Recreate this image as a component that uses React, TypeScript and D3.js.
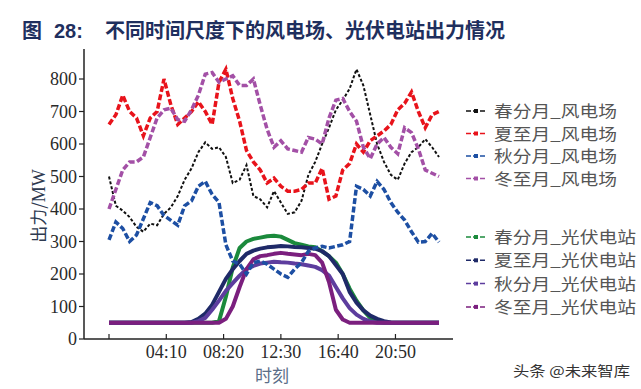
import React from 'react';
import * as d3 from 'd3';

// half-hour samples, 00:00 .. 24:00
const hours = d3.range(0, 24.01, 0.5);

// wind farms (MW)
const springWind = [500, 410, 395, 375, 345, 330, 355, 350, 385, 405, 440, 490, 525, 575, 605, 585, 590, 560, 480, 490, 535, 440, 430, 405, 455, 420, 385, 390, 425, 505, 545, 600, 650, 705, 735, 770, 830, 780, 690, 600, 545, 505, 490, 540, 575, 590, 615, 590, 560];
const summerWind = [660, 690, 750, 700, 680, 625, 680, 700, 800, 720, 660, 680, 700, 730, 700, 660, 790, 830, 740, 670, 580, 545, 520, 480, 495, 470, 455, 455, 460, 480, 480, 525, 430, 440, 520, 540, 600, 575, 610, 625, 640, 660, 705, 725, 760, 700, 650, 690, 700];
const autumnWind = [305, 360, 340, 300, 320, 370, 420, 410, 380, 365, 350, 410, 425, 470, 485, 445, 420, 290, 240, 230, 200, 235, 240, 230, 215, 200, 190, 215, 235, 270, 280, 285, 280, 285, 290, 300, 470, 460, 440, 485, 460, 420, 390, 366, 330, 298, 300, 325, 298];
const winterWind = [400, 460, 520, 545, 545, 560, 620, 680, 705, 710, 675, 670, 705, 750, 815, 820, 790, 800, 810, 780, 780, 800, 720, 645, 590, 610, 585, 580, 575, 620, 615, 600, 680, 735, 740, 700, 670, 590, 555, 600, 620, 590, 570, 650, 635, 585, 520, 510, 500];

// PV stations (MW)
const springPV = [50, 50, 50, 50, 50, 50, 50, 50, 50, 50, 50, 50, 50, 50, 50, 50, 55, 130, 220, 280, 300, 308, 312, 316, 318, 315, 305, 295, 290, 285, 282, 270, 255, 235, 200, 155, 118, 88, 65, 53, 50, 50, 50, 50, 50, 50, 50, 50, 50];
const summerPV = [50, 50, 50, 50, 50, 50, 50, 50, 50, 50, 50, 50, 52, 62, 78, 105, 145, 185, 215, 240, 262, 272, 278, 282, 284, 286, 285, 283, 282, 280, 278, 270, 255, 228, 200, 145, 112, 88, 72, 62, 55, 51, 50, 50, 50, 50, 50, 50, 50];
const autumnPV = [50, 50, 50, 50, 50, 50, 50, 50, 50, 50, 50, 50, 50, 55, 65, 90, 118, 148, 172, 195, 215, 225, 232, 235, 238, 236, 235, 232, 230, 226, 222, 212, 195, 160, 125, 95, 75, 62, 54, 50, 50, 50, 50, 50, 50, 50, 50, 50, 50];
const winterPV = [50, 50, 50, 50, 50, 50, 50, 50, 50, 50, 50, 50, 50, 50, 50, 50, 50, 62, 100, 160, 215, 245, 255, 258, 262, 265, 262, 260, 258, 262, 258, 235, 175, 90, 60, 50, 50, 50, 50, 50, 50, 50, 50, 50, 50, 50, 50, 50, 50];

const yTicks = [0, 100, 200, 300, 400, 500, 600, 700, 800];
const xTickMinutes = [0, 250, 500, 750, 1000, 1250];
const xTickLabels = ['', '04:10', '08:20', '12:30', '16:40', '20:50'];

const windSeries = [
  { name: '春分月_风电场', values: springWind, color: '#111111', width: 2, dash: '3 2' },
  { name: '夏至月_风电场', values: summerWind, color: '#e8131b', width: 3.5, dash: '6 2.5' },
  { name: '秋分月_风电场', values: autumnWind, color: '#1d4fa3', width: 3.5, dash: '6 2.5' },
  { name: '冬至月_风电场', values: winterWind, color: '#a350a6', width: 3.5, dash: '6 2.5' },
];
const pvSeries = [
  { name: '春分月_光伏电站', values: springPV, color: '#1b8a3c' },
  { name: '夏至月_光伏电站', values: summerPV, color: '#1f2a68' },
  { name: '秋分月_光伏电站', values: autumnPV, color: '#5d3d9e' },
  { name: '冬至月_光伏电站', values: winterPV, color: '#7b1f7e' },
];

const serif = '"Liberation Serif", "DejaVu Serif", serif';
const cjk = '"Noto Sans CJK SC", sans-serif';

export default function App() {
  const x = d3.scaleLinear().domain([0, 24]).range([109, 439]);
  const y = d3.scaleLinear().domain([0, 800]).range([339, 79]);
  const line = d3.line<number>().x((d, i) => x(hours[i])).y((d) => y(d));

  return (
    <svg width={641} height={389} style={{ position: 'absolute', left: 0, top: 0, background: '#fff' }}>
      <text y={38} fill="#1f2f5e" fontWeight="bold" fontSize={20} fontFamily={cjk}>
        <tspan x={22}>图</tspan>
        <tspan x={54} fontFamily='"Liberation Sans", Arial, sans-serif'>28:</tspan>
        <tspan x={105}>不同时间尺度下的风电场、光伏电站出力情况</tspan>
      </text>

      {/* axes */}
      <line x1={84} x2={84} y1={49} y2={339} stroke="#222" strokeWidth={1.5} />
      <line x1={84} x2={453} y1={339} y2={339} stroke="#222" strokeWidth={1.5} />
      {yTicks.map((t) => (
        <g key={t}>
          <line x1={79} x2={84} y1={y(t)} y2={y(t)} stroke="#222" strokeWidth={1.2} />
          <text x={77} y={y(t) + 6} textAnchor="end" fontSize={18} fontFamily={serif} fill="#2a2a2a">{t}</text>
        </g>
      ))}
      {xTickMinutes.map((m, i) => (
        <g key={m}>
          <line x1={x(m / 60)} x2={x(m / 60)} y1={339} y2={334} stroke="#222" strokeWidth={1.2} />
          <text x={x(m / 60)} y={358} textAnchor="middle" fontSize={18} fontFamily={serif} fill="#2a2a2a">{xTickLabels[i]}</text>
        </g>
      ))}
      <text transform="translate(45,206) rotate(-90)" textAnchor="middle" fontSize={17} fontFamily={cjk} fill="#2e3a50">
        出力/<tspan fontFamily={serif} fontSize={18}>MW</tspan>
      </text>
      <text x={272} y={382} textAnchor="middle" fontSize={17} fontFamily={cjk} fill="#5b6e88">时刻</text>

      {/* PV */}
      {pvSeries.map((s) => (
        <path key={s.name} d={line(s.values) || ''} fill="none" stroke={s.color} strokeWidth={4} strokeLinejoin="round" />
      ))}
      {/* wind */}
      {windSeries.map((s) => (
        <path key={s.name} d={line(s.values) || ''} fill="none" stroke={s.color} strokeWidth={s.width} strokeDasharray={s.dash} />
      ))}

      {/* legend */}
      {windSeries.map((s, i) => {
        const ly = 111 + i * 22.5;
        return (
          <g key={s.name}>
            <line x1={466} x2={487} y1={ly} y2={ly} stroke={s.color} strokeWidth={1.5} strokeDasharray="5 2" />
            <rect x={474} y={ly - 2} width={4} height={4} fill={s.color} />
            <text x={494} y={ly + 6} fontSize={16} fontFamily={cjk} fill="#555" textLength={123} lengthAdjust="spacingAndGlyphs">{s.name}</text>
          </g>
        );
      })}
      {pvSeries.map((s, i) => {
        const ly = 237 + i * 23.3;
        return (
          <g key={s.name}>
            <line x1={466} x2={487} y1={ly} y2={ly} stroke={s.color} strokeWidth={1.5} strokeDasharray="5 2" />
            <rect x={474} y={ly - 2} width={4} height={4} fill={s.color} />
            <text x={494} y={ly + 6} fontSize={16} fontFamily={cjk} fill="#555" textLength={142} lengthAdjust="spacingAndGlyphs">{s.name}</text>
          </g>
        );
      })}

      <text x={513} y={376} fontSize={14} fontFamily={cjk} fill="#333" textLength={117} lengthAdjust="spacingAndGlyphs">头条 @未来智库</text>
    </svg>
  );
}
